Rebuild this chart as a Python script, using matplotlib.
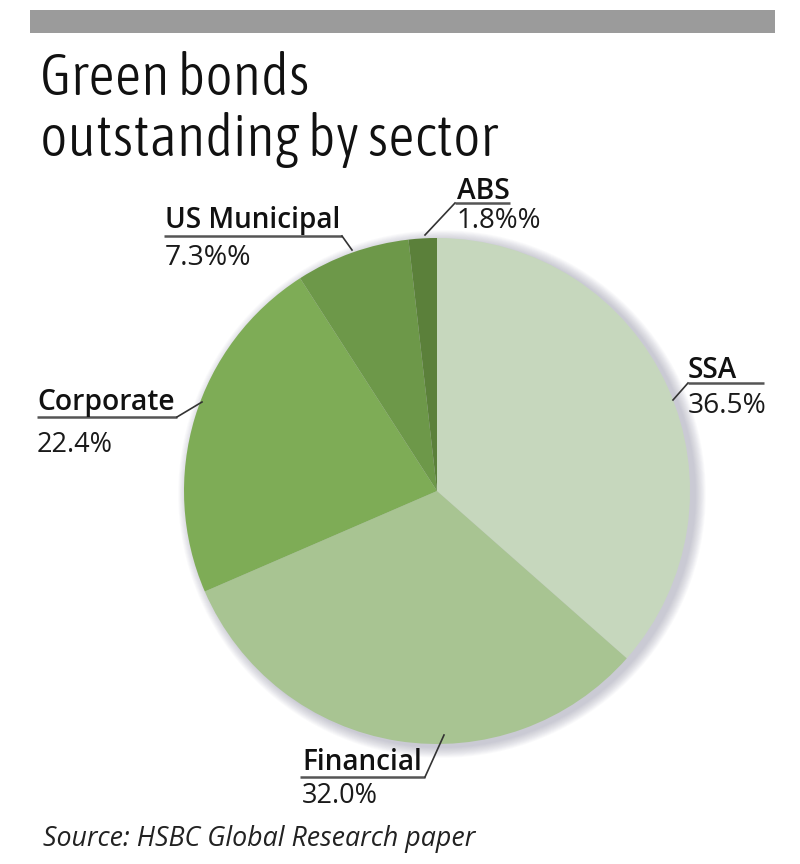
import matplotlib
matplotlib.use("Agg")
import matplotlib.pyplot as plt
from matplotlib.patches import Rectangle, Circle
from matplotlib import font_manager
from matplotlib.font_manager import FontProperties

sectors = ["SSA", "Financial", "Corporate", "US Municipal", "ABS"]
shares = [36.5, 32.0, 22.4, 7.3, 1.8]
pct_labels = ["36.5%", "32.0%", "22.4%", "7.3%%", "1.8%%"]
colors = ["#c6d7bd", "#a8c492", "#7eac56", "#6d9849", "#5b803a"]
title = "Green bonds\noutstanding by sector"
source = "Source: HSBC Global Research paper"

def wnum(w):
    if isinstance(w, (int, float)):
        return w
    return font_manager.weight_dict.get(str(w).lower(), 400)

cands = []
for f in font_manager.fontManager.ttflist:
    condensed = ("Condensed" in f.name or "Narrow" in f.name or
                 str(f.stretch) in ("condensed", "semi-condensed", "extra-condensed", "ultra-condensed")
                 or (isinstance(f.stretch, int) and f.stretch < 500))
    if condensed and f.style == "normal":
        cands.append((abs(wnum(f.weight) - 330), f.fname))
cands.sort()
if cands:
    title_fp = FontProperties(fname=cands[0][1])
else:
    title_fp = FontProperties(family="Roboto", weight="light")
label_font = "Open Sans"

W, H = 800, 864
fig = plt.figure(figsize=(W / 100, H / 100), dpi=100)
ax = fig.add_axes([0, 0, 1, 1])
ax.set_xlim(0, W)
ax.set_ylim(0, H)
ax.set_aspect("equal")
ax.axis("off")

def Y(py):
    return H - py

renderer = fig.canvas.get_renderer()

def fit(t, target_w):
    bb = t.get_window_extent(renderer=renderer)
    t.set_fontsize(t.get_fontsize() * target_w / bb.width)

# top grey bar
ax.add_patch(Rectangle((30, Y(33)), 745, 23, color="#9b9b9b", lw=0))

# title (single two-line text; anchored on the last line's baseline at y=156)
tt = ax.text(40, Y(156), title, fontproperties=title_fp, color="#111111", va="baseline", ha="left")
tt.set_fontsize(30)
fit(tt, 457)
fp_now = tt.get_fontproperties()
w_lp, h_lp, d_lp = renderer.get_text_width_height_descent("lp", fp_now, ismath=False)
tt.set_linespacing(49.0 / (h_lp - d_lp))

# pie with soft shadow (offset to the right / down)
cx, cy, r = 437, 491, 253
for k in range(12, 0, -1):
    ax.add_patch(Circle((cx + 5, Y(cy + 3)), r + k * 0.9, color="#6a6a85", alpha=0.03, lw=0))
ax.pie(shares, colors=colors, startangle=90, counterclock=False,
       center=(cx, Y(cy)), radius=r, wedgeprops=dict(linewidth=0))
ax.set_xlim(0, W)
ax.set_ylim(0, H)

anns = {
    "SSA": dict(x=688, lb=378, uy=383, ux0=688, ux1=764, lx=(688, 673), ly=(383, 400), pb=413, lw=49, pw=79),
    "Financial": dict(x=302, lb=770, uy=777, ux0=300, ux1=425, lx=(425, 444), ly=(777, 735), pb=803, lw=120, pw=76),
    "Corporate": dict(x=37, lb=410, uy=417, ux0=37, ux1=177, lx=(177, 202), ly=(417, 402), pb=452, lw=138, pw=76),
    "US Municipal": dict(x=165, lb=228, uy=236, ux0=164, ux1=342, lx=(342, 352), ly=(236, 250), pb=265, lw=175, pw=87),
    "ABS": dict(x=457, lb=199, uy=203, ux0=455, ux1=510, lx=(455, 425), ly=(203, 235), pb=228, lw=53, pw=85),
}
for name, pct in zip(sectors, pct_labels):
    a = anns[name]
    tl = ax.text(a["x"], Y(a["lb"]), name, fontsize=18, family=label_font, color="#111111",
                 va="baseline", fontweight="semibold")
    tp = ax.text(a["x"], Y(a["pb"]), pct, fontsize=18, family=label_font, color="#1a1a1a",
                 va="baseline", fontweight="normal")
    fit(tl, a["lw"])
    fit(tp, a["pw"])
    ax.plot([a["ux0"], a["ux1"]], [Y(a["uy"]), Y(a["uy"])], color="#555555", lw=1.8, solid_capstyle="butt")
    ax.plot(a["lx"], [Y(v) for v in a["ly"]], color="#333333", lw=1.2)

ts = ax.text(43, Y(846), source, fontsize=17, family=label_font, style="italic", color="#222222", va="baseline")
fit(ts, 432)

fig.savefig("out.png", dpi=100, facecolor="white")
